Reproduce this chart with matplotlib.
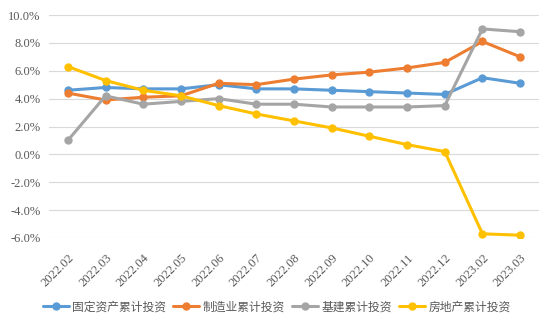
import matplotlib
matplotlib.use("Agg")
import matplotlib.pyplot as plt
from matplotlib.ticker import FuncFormatter, MultipleLocator

categories = ["2022.02", "2022.03", "2022.04", "2022.05", "2022.06", "2022.07",
              "2022.08", "2022.09", "2022.10", "2022.11", "2022.12", "2023.02", "2023.03"]
fixed_asset = [4.6, 4.8, 4.7, 4.7, 5.0, 4.7, 4.7, 4.6, 4.5, 4.4, 4.3, 5.5, 5.1]
manufacturing = [4.4, 3.9, 4.1, 4.2, 5.1, 5.0, 5.4, 5.7, 5.9, 6.2, 6.6, 8.1, 7.0]
infrastructure = [1.0, 4.2, 3.6, 3.8, 4.0, 3.6, 3.6, 3.4, 3.4, 3.4, 3.5, 9.0, 8.8]
real_estate = [6.3, 5.3, 4.6, 4.2, 3.5, 2.9, 2.4, 1.9, 1.3, 0.7, 0.2, -5.7, -5.8]

series = [
    ("固定资产累计投资", fixed_asset, "#5B9BD5"),
    ("制造业累计投资", manufacturing, "#ED7D31"),
    ("基建累计投资", infrastructure, "#A5A5A5"),
    ("房地产累计投资", real_estate, "#FFC000"),
]

fig = plt.figure(figsize=(5.54, 3.28), dpi=100)
ax = fig.add_axes([49/554, 1-238/328, 490/554, 223/328])

x = list(range(len(categories)))
for name, vals, color in series:
    ax.plot(x, vals, color=color, lw=2.2, marker="o", markersize=5,
            label=name, solid_capstyle="round", solid_joinstyle="round")

ax.set_xlim(-0.5, len(categories) - 0.5)
ax.set_ylim(-6, 10)
ax.yaxis.set_major_locator(MultipleLocator(2))
ax.yaxis.set_major_formatter(FuncFormatter(lambda v, p: f"{v:.1f}%"))
ax.grid(axis="y", color="#D9D9D9", lw=0.8)
ax.set_axisbelow(True)
for s in ax.spines.values():
    s.set_visible(False)
ax.tick_params(axis="both", length=0, colors="#595959")
ax.set_xticks(x)
ax.set_xticklabels(categories, rotation=45, ha="right", va="top",
                   rotation_mode="anchor", family="Liberation Serif", fontsize=9)
for lab in ax.get_yticklabels():
    lab.set_family("Liberation Serif")
    lab.set_fontsize(9)
ax.tick_params(axis="x", pad=10)
ax.tick_params(axis="y", pad=6)

leg = fig.legend(loc="center", bbox_to_anchor=(0.5, 1-307/328), ncol=4, frameon=False,
                 prop={"family": ["Noto Sans CJK SC", "DejaVu Sans"], "size": 8.5},
                 handlelength=2.2, handletextpad=0.3, columnspacing=0.6)
for t in leg.get_texts():
    t.set_color("#595959")

fig.savefig("out.png", dpi=100)
